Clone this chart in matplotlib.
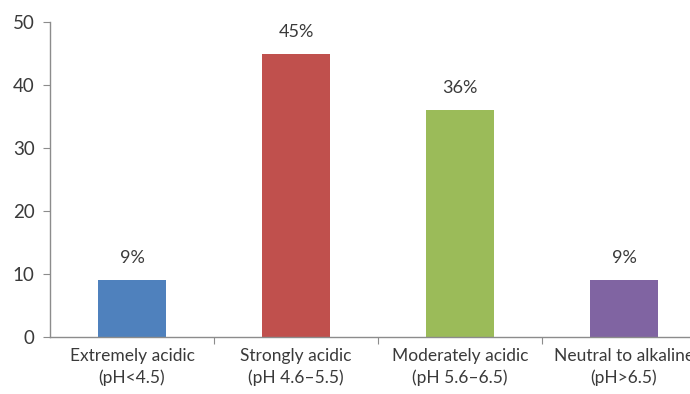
import matplotlib
matplotlib.use("Agg")
import matplotlib.pyplot as plt

categories = ["Extremely acidic\n(pH<4.5)", "Strongly acidic\n(pH 4.6\u20135.5)",
              "Moderately acidic\n(pH 5.6\u20136.5)", "Neutral to alkaline\n(pH>6.5)"]
values = [9, 45, 36, 9]
labels = ["9%", "45%", "36%", "9%"]
colors = ["#4F81BD", "#C0504D", "#9BBB59", "#8064A2"]
yticks = [0, 10, 20, 30, 40, 50]

plt.rcParams["font.family"] = ["Lato", "DejaVu Sans"]
text_color = "#3a3a3a"
axis_color = "#8c8c8c"

fig = plt.figure(figsize=(6.9, 3.94), dpi=100)
ax = fig.add_axes([50 / 690, 57 / 394, 656 / 690, 315 / 394])

x = list(range(len(categories)))
ax.bar(x, values, width=0.41, color=colors, zorder=2)
for xi, v, lab in zip(x, values, labels):
    ax.annotate(lab, (xi, v), xytext=(0, 10), textcoords="offset points",
                ha="center", va="bottom", fontsize=13, color=text_color)

ax.set_xlim(-0.5, len(categories) - 0.5)
ax.set_ylim(0, 50)
ax.set_yticks(yticks)
ax.tick_params(axis="y", direction="out", length=5, color=axis_color,
               labelsize=13.5, labelcolor=text_color, pad=6)

# category boundary ticks, labels centred under each bar
ax.set_xticks([i + 0.5 for i in x[:-1]])
ax.set_xticklabels([])
ax.tick_params(axis="x", which="major", direction="out", length=5, color=axis_color)
ax.set_xticks(x, minor=True)
ax.set_xticklabels(categories, minor=True, fontsize=12.5, color=text_color,
                   linespacing=1.4)
ax.tick_params(axis="x", which="minor", length=0, pad=8)

for side in ("top", "right"):
    ax.spines[side].set_visible(False)
for side in ("left", "bottom"):
    ax.spines[side].set_color(axis_color)
    ax.spines[side].set_linewidth(1.0)

fig.savefig("out.png", dpi=100)
